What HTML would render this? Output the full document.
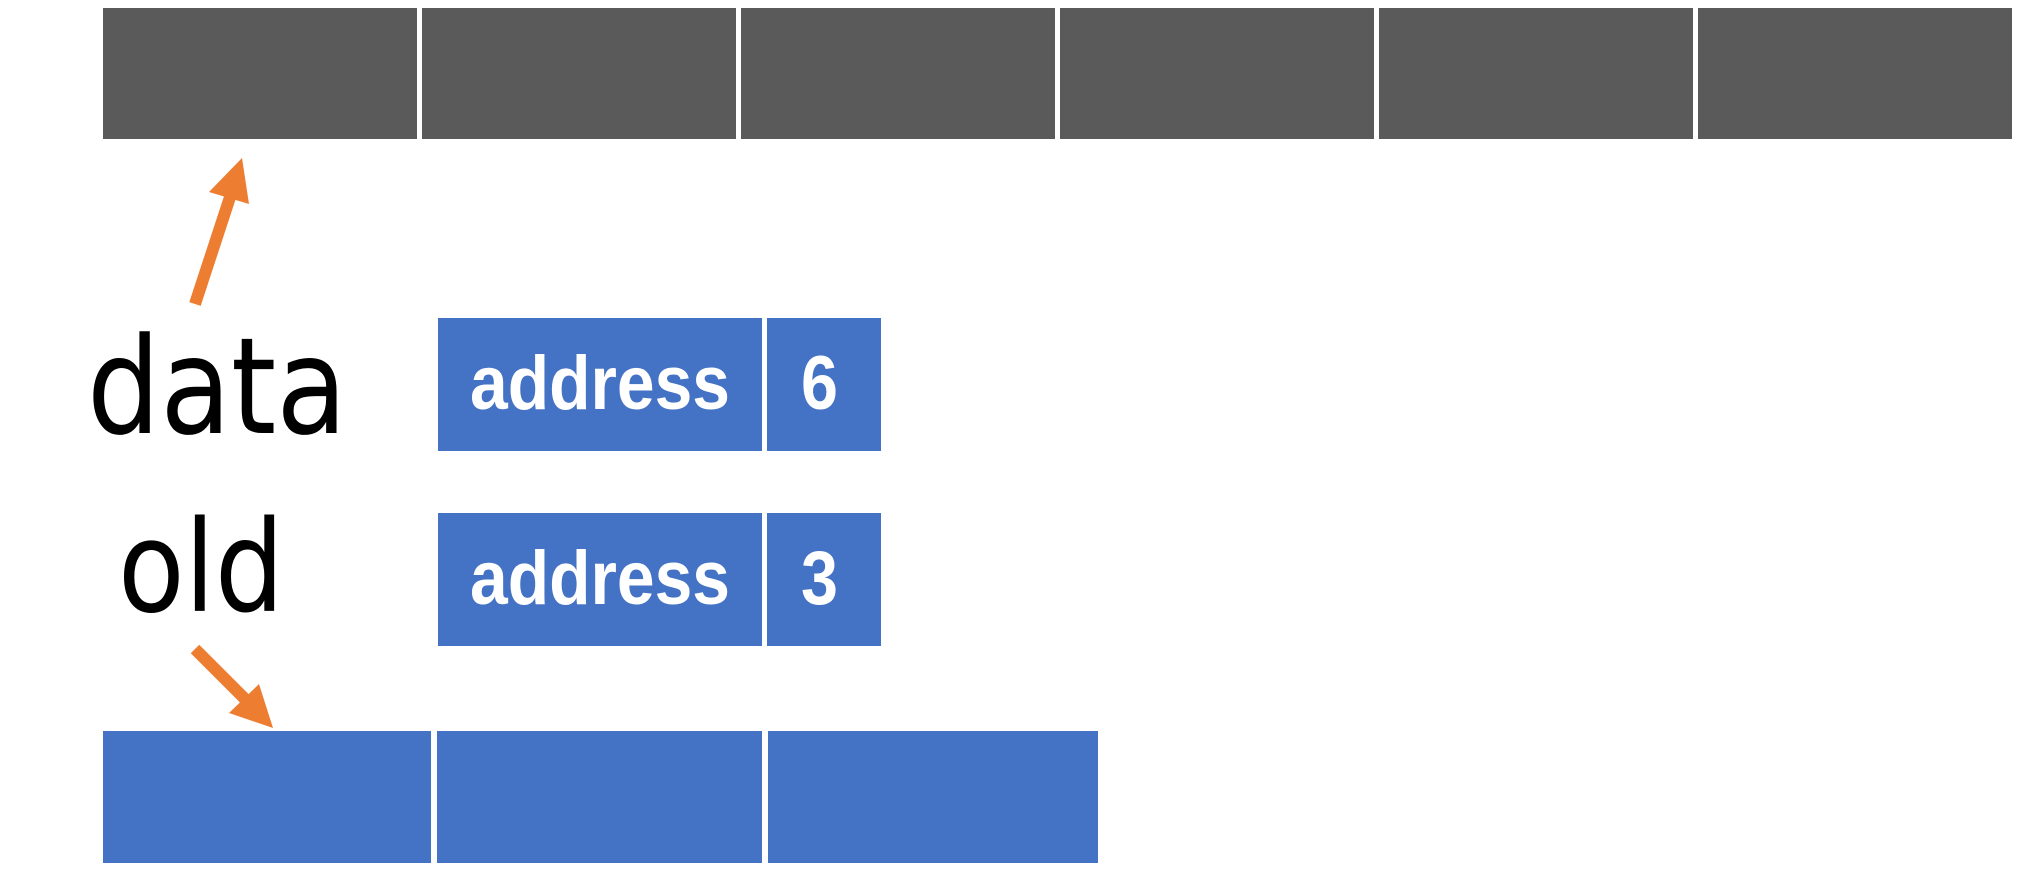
<!DOCTYPE html>
<html><head><meta charset="utf-8"><style>html,body{margin:0;padding:0;background:#fff;}svg{display:block}</style></head>
<body>
<svg width="2025" height="884" viewBox="0 0 2025 884" xmlns="http://www.w3.org/2000/svg">
<g fill="#5a5a5a">
<rect x="103" y="8" width="314" height="131"/>
<rect x="422" y="8" width="314" height="131"/>
<rect x="741" y="8" width="314" height="131"/>
<rect x="1060" y="8" width="314" height="131"/>
<rect x="1379" y="8" width="314" height="131"/>
<rect x="1698" y="8" width="314" height="131"/>
</g>
<g fill="#4472c4">
<rect x="438" y="318" width="324" height="133"/>
<rect x="767" y="318" width="114" height="133"/>
<rect x="438" y="513" width="324" height="133"/>
<rect x="767" y="513" width="114" height="133"/>
<rect x="103" y="731" width="328" height="132"/>
<rect x="437" y="731" width="325" height="132"/>
<rect x="768" y="731" width="330" height="132"/>
</g>
<g fill="#fff" font-family="Liberation Sans, sans-serif" font-weight="bold" font-size="76">
<text x="470" y="409" textLength="260" lengthAdjust="spacingAndGlyphs">address</text>
<text x="801" y="409" textLength="37" lengthAdjust="spacingAndGlyphs">6</text>
<text x="470" y="604" textLength="260" lengthAdjust="spacingAndGlyphs">address</text>
<text x="801" y="604" textLength="37" lengthAdjust="spacingAndGlyphs">3</text>
</g>
<g fill="#000" font-family="DejaVu Sans, sans-serif">
<text x="87" y="433" font-size="134" textLength="260" lengthAdjust="spacingAndGlyphs">data</text>
<text x="118" y="611" font-size="127" textLength="166" lengthAdjust="spacingAndGlyphs">old</text>
</g>
<g fill="#ed7d31" stroke="#ed7d31">
<line x1="195" y1="304" x2="233" y2="188" stroke-width="12"/>
<polygon points="242,158 209,192 249,204" stroke="none"/>
<line x1="195" y1="649" x2="250" y2="704" stroke-width="12"/>
<polygon points="273,728 229,713 259,684" stroke="none"/>
</g>
</svg>
</body></html>
